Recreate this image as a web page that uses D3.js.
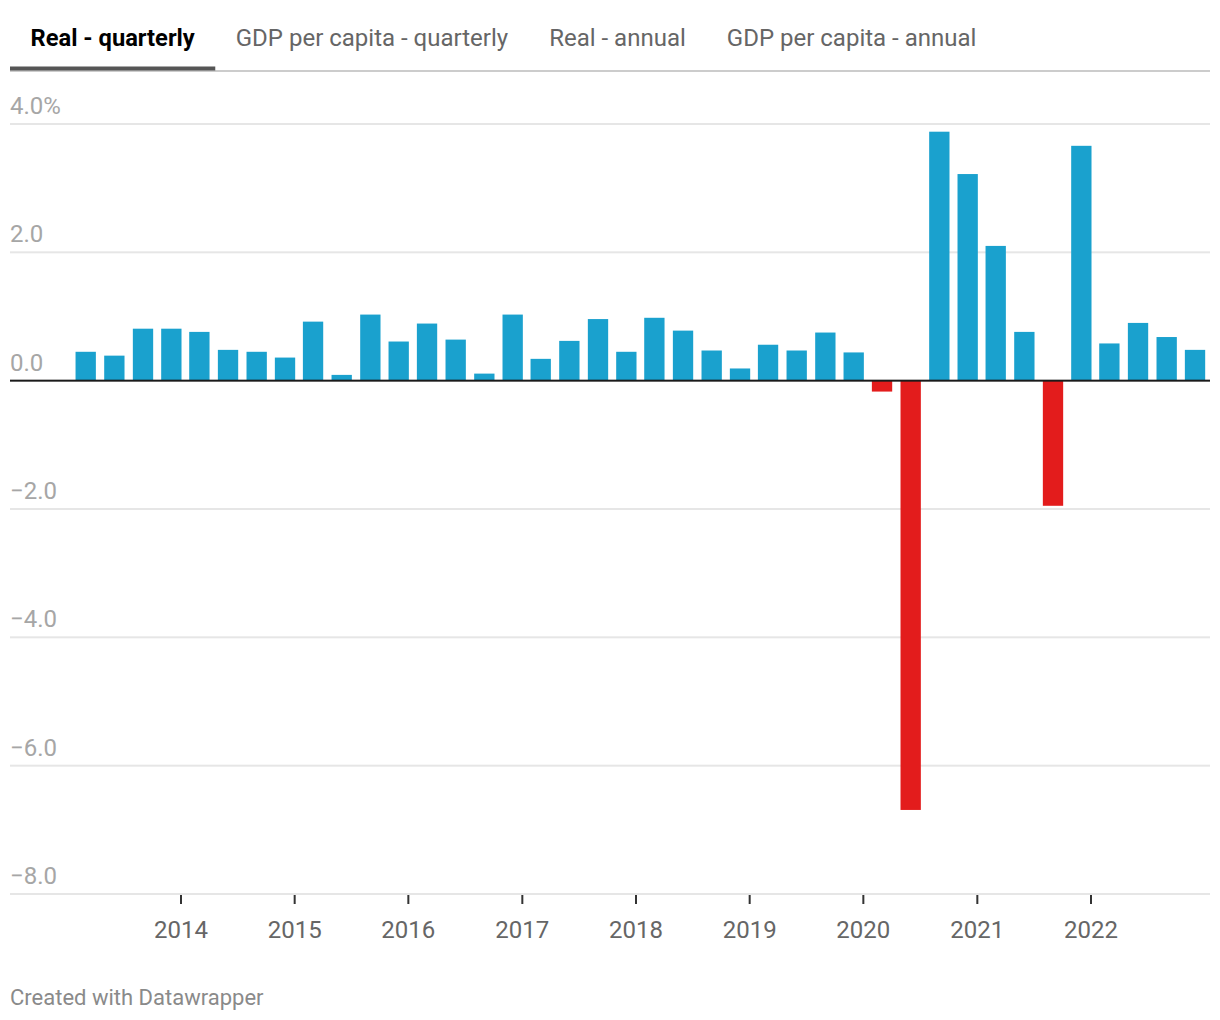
<!DOCTYPE html>
<html>
<head>
<meta charset="utf-8">
<script src="https://cdn.jsdelivr.net/npm/d3@7"></script>
<style>
  html, body { margin: 0; padding: 0; background: #fff; }
  svg { display: block; font-family: Roboto, "Noto Sans", sans-serif; }
</style>
</head>
<body>
<svg id="chart" width="1220" height="1020"></svg>
<script>
// ---- Data ----
const tabs = ["Real - quarterly", "GDP per capita - quarterly", "Real - annual", "GDP per capita - annual"];
const activeTab = 0;

const quarters = [
  "2013-03","2013-06","2013-09","2013-12",
  "2014-03","2014-06","2014-09","2014-12",
  "2015-03","2015-06","2015-09","2015-12",
  "2016-03","2016-06","2016-09","2016-12",
  "2017-03","2017-06","2017-09","2017-12",
  "2018-03","2018-06","2018-09","2018-12",
  "2019-03","2019-06","2019-09","2019-12",
  "2020-03","2020-06","2020-09","2020-12",
  "2021-03","2021-06","2021-09","2021-12",
  "2022-03","2022-06","2022-09","2022-12"
];
const growth = [
  0.45, 0.39, 0.81, 0.81,
  0.76, 0.48, 0.45, 0.36,
  0.92, 0.09, 1.03, 0.61,
  0.89, 0.64, 0.11, 1.03,
  0.34, 0.62, 0.96, 0.45,
  0.98, 0.78, 0.47, 0.19,
  0.56, 0.47, 0.75, 0.44,
  -0.17, -6.69, 3.88, 3.22,
  2.10, 0.76, -1.95, 3.66,
  0.58, 0.90, 0.68, 0.48
];
const yTicks = [4, 2, 0, -2, -4, -6, -8];
const xTickYears = [2014, 2015, 2016, 2017, 2018, 2019, 2020, 2021, 2022];
const footer = "Created with Datawrapper";

// ---- Setup ----
const svg = d3.select("#chart");
const left = 10, right = 1210;
const parse = d3.utcParse("%Y-%m");

const x = d3.scaleUtc()
  .domain([new Date(Date.UTC(2014, 0, 1)), new Date(Date.UTC(2022, 0, 1))])
  .range([181, 1091]);
const y = d3.scaleLinear().domain([4, -8]).range([124, 894]);

const quarterPx = x(new Date(Date.UTC(2014, 3, 1))) - x(new Date(Date.UTC(2014, 0, 1)));
const barW = quarterPx * 0.725;

const blue = "#1aa1ce", red = "#e31c1c";

// ---- Tabs ----
const tabG = svg.append("g");
tabG.append("rect").attr("x", left).attr("y", 70).attr("width", right - left).attr("height", 2)
  .attr("fill", "#cccccc");
const pad = 20.5;
let tx = left;
tabs.forEach((t, i) => {
  const active = i === activeTab;
  const txt = tabG.append("text")
    .attr("x", tx + pad)
    .attr("y", 46)
    .attr("font-size", active ? 23.7 : 24)
    .attr("font-weight", active ? 700 : 400)
    .attr("fill", active ? "#000" : "#666")
    .text(t);
  const w = txt.node().getComputedTextLength();
  if (active) {
    tabG.append("rect").attr("x", tx).attr("y", 66.5).attr("width", w + 2 * pad).attr("height", 4)
      .attr("fill", "#555");
  }
  tx += w + 2 * pad;
});

// ---- Gridlines & y labels ----
const grid = svg.append("g");
yTicks.filter(v => v !== 0).forEach(v => {
  grid.append("rect").attr("x", left).attr("y", y(v) - 1).attr("width", right - left).attr("height", 2)
    .attr("fill", "#e6e6e6");
});
const fmt = v => {
  const s = Math.abs(v).toFixed(1);
  return (v < 0 ? "\u2212" : "") + s + (v === 4 ? "%" : "");
};
svg.append("g").selectAll("text").data(yTicks).join("text")
  .attr("x", left)
  .attr("y", d => y(d) - 10)
  .attr("font-size", 24)
  .attr("fill", "#a6a6a6")
  .text(fmt);

// ---- Bars ----
const data = quarters.map((q, i) => ({ date: parse(q), v: growth[i] }));
svg.append("g").selectAll("rect").data(data).join("rect")
  .attr("x", d => x(d.date) - barW / 2)
  .attr("width", barW)
  .attr("y", d => y(Math.max(0, d.v)))
  .attr("height", d => Math.abs(y(d.v) - y(0)))
  .attr("fill", d => d.v < 0 ? red : blue);

// ---- Zero line ----
svg.append("rect").attr("x", left).attr("y", y(0) - 1).attr("width", right - left).attr("height", 2)
  .attr("fill", "#1a1a1a");

// ---- X axis ----
const xAxisG = svg.append("g");
xTickYears.forEach(yr => {
  const px = x(new Date(Date.UTC(yr, 0, 1)));
  xAxisG.append("rect").attr("x", px - 1).attr("y", y(-8) + 1).attr("width", 2).attr("height", 9)
    .attr("fill", "#333");
  xAxisG.append("text").attr("x", px).attr("y", 938).attr("text-anchor", "middle")
    .attr("font-size", 24).attr("fill", "#666").text(yr);
});

// ---- Footer ----
svg.append("text").attr("x", left).attr("y", 1005).attr("font-size", 22).attr("fill", "#8a8a8a")
  .text(footer);
</script>
</body>
</html>
